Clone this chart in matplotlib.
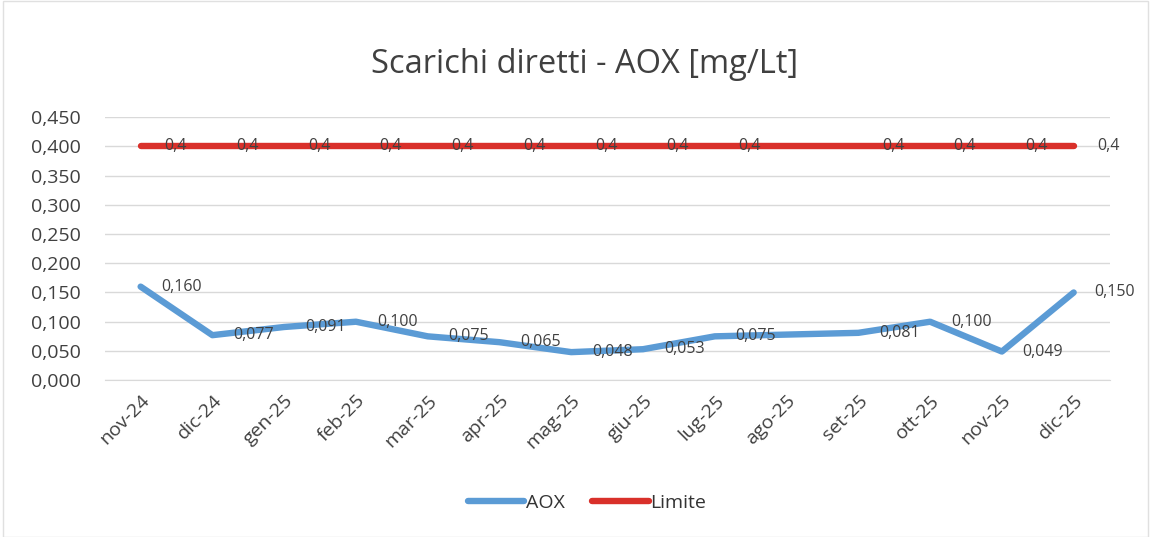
import matplotlib.pyplot as plt
import numpy as np
from matplotlib.patches import Rectangle

# months on the x axis
mesi = ['nov-24', 'dic-24', 'gen-25', 'feb-25', 'mar-25', 'apr-25', 'mag-25',
        'giu-25', 'lug-25', 'ago-25', 'set-25', 'ott-25', 'nov-25', 'dic-25']
# AOX measurements (ago-25 empty in the sheet, Excel joins the line across it)
aox = [0.160, 0.077, 0.091, 0.100, 0.075, 0.065, 0.048,
       0.053, 0.075, None, 0.081, 0.100, 0.049, 0.150]
# limit
limite = [0.4, 0.4, 0.4, 0.4, 0.4, 0.4, 0.4,
          0.4, 0.4, None, 0.4, 0.4, 0.4, 0.4]

plt.rcParams['font.family'] = ['Open Sans', 'DejaVu Sans']

fig = plt.figure(figsize=(11.51, 5.37), dpi=100)
ax = fig.add_axes([0.091, 0.292, 0.873, 0.490])

x = np.arange(len(mesi))

def valid(vals):
    idx = [i for i, v in enumerate(vals) if v is not None]
    return np.array(idx), np.array([vals[i] for i in idx])

xa, ya = valid(aox)
xl, yl = valid(limite)

ax.plot(xa, ya, color='#5b9bd5', lw=4.6, solid_capstyle='round', label='AOX', zorder=3)
ax.plot(xl, yl, color='#d9302a', lw=4.6, solid_capstyle='round', label='Limite', zorder=3)

# data labels, to the right of each point
for i, v in zip(xa, ya):
    ax.annotate(('%.3f' % v).replace('.', ','), (i, v), xytext=(15, 0),
                textcoords='offset points', ha='left', va='center',
                fontsize=11.5, color='#404040', zorder=4)
for i, v in zip(xl, yl):
    ax.annotate(('%g' % v).replace('.', ','), (i, v), xytext=(17, 0),
                textcoords='offset points', ha='left', va='center',
                fontsize=11.5, color='#404040', zorder=4)

ax.set_xlim(-0.5, len(mesi) - 0.5)
ax.set_ylim(0, 0.45)
ax.set_yticks(np.arange(0, 0.451, 0.05))
ax.set_yticklabels([('%.3f' % t).replace('.', ',') for t in np.arange(0, 0.451, 0.05)],
                   fontsize=14, color='#404040')
ax.set_xticks(x)
ax.set_xticklabels(mesi, rotation=45, ha='right', rotation_mode='anchor',
                   fontsize=14, color='#404040')
ax.tick_params(axis='x', length=0, pad=8)
ax.tick_params(axis='y', length=0, pad=17)
ax.grid(axis='y', color='#d9d9d9', lw=1)
ax.set_axisbelow(True)
for s in ['top', 'right', 'left']:
    ax.spines[s].set_visible(False)
ax.spines['bottom'].set_color('#d9d9d9')

fig.suptitle('Scarichi diretti - AOX [mg/Lt]', x=0.508, y=0.91, fontsize=23.5,
             color='#404040')

fig.legend(loc='center', bbox_to_anchor=(0.51, 0.063), ncol=2, frameon=False,
           fontsize=14, handlelength=2.9, handletextpad=0.1, columnspacing=1.4,
           labelcolor='#333333')

# faint chart border
fig.patches.append(Rectangle((0.003, 0.0), 0.994, 0.998, transform=fig.transFigure,
                             fill=False, edgecolor='#e0e0e0', lw=1))

fig.savefig('out.png', dpi=100)
